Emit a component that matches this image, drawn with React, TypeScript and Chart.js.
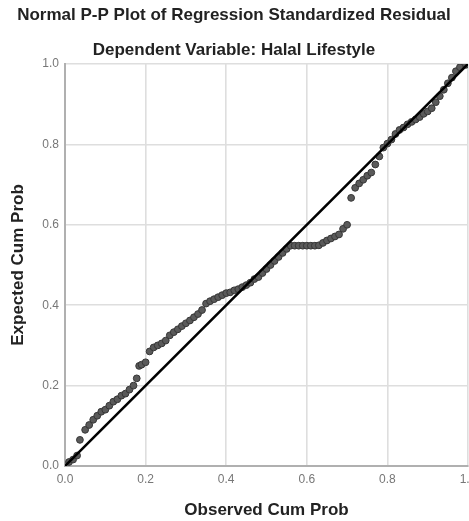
import React, { useEffect, useRef } from "react";
import { Chart, registerables } from "chart.js";

Chart.register(...registerables);

const titleText = "Normal P-P Plot of Regression Standardized Residual";
const subtitleText = "Dependent Variable: Halal Lifestyle";
const xAxisTitle = "Observed Cum Prob";
const yAxisTitle = "Expected Cum Prob";
const tickValues = [0, 0.2, 0.4, 0.6, 0.8, 1.0];

const observedCumProb = [
  0.01, 0.02, 0.03, 0.037, 0.05, 0.06, 0.07, 0.08, 0.09, 0.1,
  0.11, 0.12, 0.13, 0.14, 0.15, 0.16, 0.17, 0.178, 0.184, 0.19,
  0.2, 0.21, 0.22, 0.23, 0.24, 0.25, 0.26, 0.27, 0.28, 0.29,
  0.3, 0.31, 0.32, 0.33, 0.34, 0.35, 0.36, 0.37, 0.38, 0.39,
  0.4, 0.41, 0.42, 0.43, 0.44, 0.45, 0.46, 0.47, 0.48, 0.49,
  0.5, 0.51, 0.52, 0.53, 0.54, 0.55, 0.56, 0.57, 0.58, 0.59,
  0.6, 0.61, 0.62, 0.63, 0.64, 0.65, 0.66, 0.67, 0.68, 0.69,
  0.7, 0.71, 0.72, 0.73, 0.74, 0.75, 0.76, 0.77, 0.78, 0.79,
  0.8, 0.81, 0.82, 0.83, 0.84, 0.85, 0.86, 0.87, 0.88, 0.89,
  0.9, 0.91, 0.92, 0.93, 0.94, 0.95, 0.96, 0.97, 0.98, 0.995,
];

const expectedCumProb = [
  0.01, 0.016, 0.026, 0.065, 0.09, 0.102, 0.115, 0.125, 0.135, 0.14,
  0.15, 0.16, 0.166, 0.175, 0.18, 0.19, 0.2, 0.218, 0.249, 0.252,
  0.258, 0.285, 0.295, 0.3, 0.305, 0.312, 0.325, 0.333, 0.34, 0.348,
  0.355, 0.362, 0.37, 0.378, 0.388, 0.404, 0.41, 0.415, 0.42, 0.425,
  0.43, 0.432, 0.437, 0.44, 0.445, 0.45, 0.456, 0.465, 0.47, 0.48,
  0.49, 0.5, 0.51, 0.52, 0.53, 0.54, 0.548, 0.548, 0.548, 0.548,
  0.548, 0.548, 0.548, 0.549, 0.555, 0.561, 0.566, 0.571, 0.576, 0.59,
  0.6, 0.667, 0.692, 0.703, 0.712, 0.722, 0.73, 0.75, 0.77, 0.792,
  0.802, 0.812, 0.826, 0.836, 0.842, 0.85, 0.856, 0.862, 0.868, 0.876,
  0.882, 0.89, 0.905, 0.92, 0.936, 0.952, 0.966, 0.982, 0.992, 0.998,
];

const diagonalX = [0, 1];
const diagonalY = [0, 1];

const FONT = "'Liberation Sans', Arial, sans-serif";

export default function App() {
  const ref = useRef<HTMLCanvasElement | null>(null);

  useEffect(() => {
    if (!ref.current) return;
    const points = observedCumProb.map((x, i) => ({ x, y: expectedCumProb[i] }));
    const diag = diagonalX.map((x, i) => ({ x, y: diagonalY[i] }));
    const chart = new Chart(ref.current, {
      type: "scatter",
      data: {
        datasets: [
          {
            label: "Diagonal",
            data: diag,
            showLine: true,
            borderColor: "#000000",
            borderWidth: 2.6,
            pointRadius: 0,
            fill: false,
          },
          {
            label: "Residuals",
            data: points,
            pointRadius: 3.4,
            pointBackgroundColor: "#5a5a5a",
            pointBorderColor: "#363636",
            pointBorderWidth: 1,
            showLine: false,
          },
        ],
      },
      options: {
        animation: false,
        responsive: false,
        devicePixelRatio: 1,
        layout: { autoPadding: false, padding: { left: 0, right: 1, top: 0, bottom: 0 } },
        plugins: {
          legend: { display: false },
          tooltip: { enabled: false },
          title: {
            display: true,
            text: titleText,
            color: "#222222",
            font: { family: FONT, size: 17, weight: "bold" },
            padding: { top: 4.8, bottom: 14.6 },
          },
          subtitle: {
            display: true,
            text: subtitleText,
            color: "#222222",
            font: { family: FONT, size: 17, weight: "bold" },
            padding: { top: 0, bottom: 3.8 },
          },
        },
        scales: {
          x: {
            type: "linear",
            min: 0,
            max: 1,
            afterBuildTicks: (scale: any) => {
              scale.ticks = tickValues.map((v) => ({ value: v }));
            },
            afterFit: (scale: any) => {
              scale.height = 55;
              scale.paddingLeft = 0;
              scale.paddingRight = 0;
            },
            ticks: {
              padding: 6,
              color: "#777777",
              font: { family: FONT, size: 12 },
              callback: (v: any) => Number(v).toFixed(1),
              maxRotation: 0,
            },
            grid: { color: "#dedede", lineWidth: 1.6, drawTicks: false },
            border: { color: "#b0b0b0", width: 2 },
            title: {
              display: true,
              text: xAxisTitle,
              color: "#222222",
              font: { family: FONT, size: 17, weight: "bold" },
              padding: { top: 10, bottom: 0.8 },
            },
          },
          y: {
            type: "linear",
            min: 0,
            max: 1,
            afterBuildTicks: (scale: any) => {
              scale.ticks = tickValues.map((v) => ({ value: v }));
            },
            afterFit: (scale: any) => {
              scale.width = 65;
              scale.paddingTop = 0;
              scale.paddingBottom = 0;
            },
            ticks: {
              padding: 6,
              color: "#777777",
              font: { family: FONT, size: 12 },
              callback: (v: any) => Number(v).toFixed(1),
            },
            grid: { color: "#dedede", lineWidth: 1.6, drawTicks: false },
            border: { color: "#b0b0b0", width: 2 },
            title: {
              display: true,
              text: yAxisTitle,
              color: "#222222",
              font: { family: FONT, size: 17, weight: "bold" },
              padding: { top: 7.8, bottom: 5 },
            },
          },
        },
      },
    });
    return () => chart.destroy();
  }, []);

  return (
    <div style={{ position: "absolute", left: 0, top: 0, width: 469, height: 521, background: "#ffffff" }}>
      <canvas ref={ref} width={469} height={521} style={{ width: 469, height: 521, display: "block" }} />
    </div>
  );
}
